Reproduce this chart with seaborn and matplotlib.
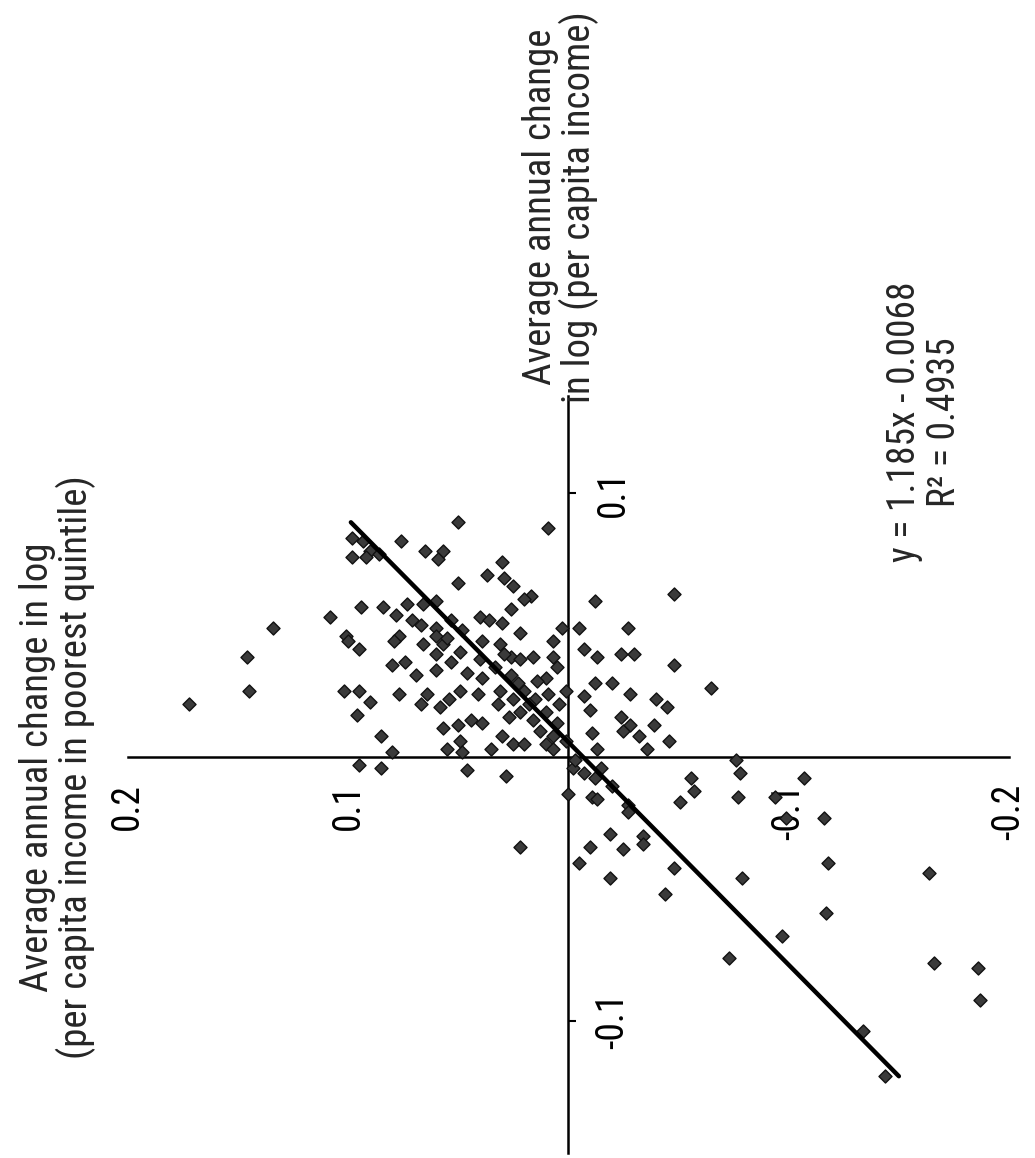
import matplotlib
matplotlib.use("Agg")
import matplotlib.pyplot as plt
from matplotlib import font_manager
import seaborn as sns
import pandas as pd

# Average annual change in log per capita income (mean) and in the poorest quintile (poor)
mean_growth = [
    0.089, 0.087, 0.083, 0.082, 0.078, 0.077, 0.076, 0.076, 0.082, 0.078,
    0.078, 0.075, 0.074, 0.069, 0.068, 0.065, 0.066, 0.061, 0.060, 0.059,
    0.057, 0.057, 0.058, 0.054, 0.058, 0.059, 0.053, 0.049, 0.038, 0.052,
    0.050, 0.052, 0.048, 0.053, 0.052, 0.056, 0.051, 0.049, 0.047, 0.049,
    0.049, 0.041, 0.038, 0.046, 0.044, 0.041, 0.046, 0.044, 0.043, 0.046,
    0.043, 0.040, 0.044, 0.044, 0.043, 0.038, 0.037, 0.038, 0.038, 0.034,
    0.039, 0.036, 0.035, 0.036, 0.033, 0.032, 0.037, 0.030, 0.031, 0.025,
    0.020, 0.025, 0.025, 0.021, 0.016, 0.008, 0.002, 0.024, 0.020, 0.024,
    0.019, 0.011, 0.022, 0.025, 0.030, 0.012, 0.006, 0.002, 0.003, 0.014,
    0.013, 0.003, 0.008, 0.005, 0.005, 0.005, 0.008, 0.023, 0.018, 0.028,
    0.009, 0.003, -0.004, -0.006, -0.008, -0.014, -0.015, -0.003, -0.004, -0.005,
    -0.007, -0.034, -0.034, -0.040, 0.045, 0.024, 0.039, 0.034,
    0.025, 0.022, 0.025, 0.022, 0.024, 0.020, 0.017, 0.014, 0.017, 0.013,
    0.015, 0.010, 0.028, 0.029, 0.025, 0.003, 0.020, 0.006, 0.020, 0.031,
    0.028, 0.039, 0.049, 0.039, 0.024, 0.015, 0.012, 0.010, 0.008, -0.029,
    -0.035, -0.018, 0.062, 0.035, 0.026, 0.022, 0.019, 0.012, 0.006, 0.003,
    -0.001, -0.004, -0.001, -0.006, -0.008, -0.013, -0.015, -0.017, -0.016, -0.011,
    -0.021, -0.015, -0.008, -0.023, -0.023, -0.030, -0.033, -0.046, -0.042, -0.052,
    -0.046, -0.040, -0.059, -0.044, -0.068, -0.076, -0.078, -0.080, -0.092, -0.121,
    -0.104,
]
poor_growth = [
    0.050, 0.009, 0.098, 0.093, 0.090, 0.086, 0.098, 0.092, 0.076, 0.065,
    0.057, 0.059, 0.030, 0.037, 0.029, 0.025, 0.050, 0.017, 0.020, -0.012,
    0.094, 0.084, 0.073, 0.078, 0.066, 0.060, 0.108, 0.134, 0.146, 0.071,
    0.067, 0.053, 0.048, 0.040, 0.036, 0.026, 0.030, 0.060, 0.022, 0.003,
    -0.005, -0.007, -0.013, 0.101, 0.100, 0.095, 0.077, 0.079, 0.066, 0.060,
    0.057, 0.049, 0.039, 0.007, 0.031, 0.026, 0.022, 0.016, 0.007, 0.005,
    0.060, 0.053, 0.080, 0.074, 0.060, 0.046, 0.040, 0.010, 0.069, 0.145,
    0.172, 0.102, 0.095, 0.090, 0.096, 0.085, 0.080, 0.077, 0.067, 0.064,
    0.058, 0.057, 0.054, 0.049, 0.039, 0.050, 0.049, 0.048, 0.055, 0.044,
    0.039, 0.035, 0.030, 0.025, 0.020, 0.010, 0.007, -0.007, -0.010, -0.012,
    -0.011, -0.013, -0.002, -0.007, -0.012, 0.000, -0.011, 0.095, 0.085, 0.046,
    0.028, 0.022, -0.010, -0.005, 0.055, 0.041, 0.029, 0.033,
    0.031, 0.025, 0.020, 0.015, 0.009, 0.004, 0.022, 0.016, 0.010, 0.005,
    0.027, 0.013, 0.023, 0.014, 0.001, 0.007, 0.018, 0.001, 0.032, 0.026,
    -0.020, -0.024, -0.027, -0.030, -0.028, -0.024, -0.028, -0.025, -0.032, -0.019,
    -0.025, -0.027, -0.048, -0.048, -0.065, -0.040, -0.045, -0.039, -0.046, -0.036,
    -0.003, -0.015, -0.076, -0.078, -0.056, -0.057, -0.077, -0.051, -0.013, -0.020,
    -0.027, -0.094, -0.107, -0.099, -0.116, -0.034, -0.034, -0.019, -0.048, -0.044,
    -0.079, -0.118, -0.117, -0.164, -0.097, -0.073, -0.166, -0.186, -0.187, -0.144,
    -0.134,
]

# Fitted trend printed on the chart
slope = 1.185
intercept = -0.0068
r_squared = 0.4935

# Ticks on the income axis and on the poorest-quintile axis
mean_ticks = [-0.1, 0.1]
mean_tick_labels = ["-0.1", "0.1"]
poor_ticks = [0.2, 0.1, -0.1, -0.2]
poor_tick_labels = ["0.2", "0.1", "-0.1", "-0.2"]

mean_title = "Average annual change\nin log (per capita income)"
poor_title = "Average annual change in log\n(per capita income in poorest quintile)"

sns.set_theme(style="white")

# the scan uses a condensed sans; take one if the machine has it
fonts = font_manager.fontManager.ttflist
names = {f.name for f in fonts}
family, stretch, narrow = "Liberation Sans", "normal", False
for cand in ["Liberation Sans Narrow", "Roboto Condensed", "Open Sans Condensed",
             "Noto Sans Condensed", "DejaVu Sans Condensed"]:
    if cand in names:
        family, narrow = cand, True
        break
else:
    for f in fonts:
        if f.name in ("DejaVu Sans", "Noto Sans", "Roboto", "Open Sans") and \
                str(f.stretch) in ("condensed", "semi-condensed", "extra-condensed"):
            family, stretch, narrow = f.name, f.stretch, True
            break
plt.rcParams["font.family"] = [family, "DejaVu Sans"]
plt.rcParams["font.stretch"] = stretch
plt.rcParams["axes.unicode_minus"] = False
k = 1.0 if narrow else 0.8

df = pd.DataFrame({"mean": mean_growth, "poor": poor_growth})
fit = pd.DataFrame({"mean": [df["mean"].min(), df["mean"].max()]})
fit["poor"] = slope * fit["mean"] + intercept

# The page is turned a quarter: income runs up the page, poorest quintile runs to the left
fig = plt.figure(figsize=(10.35, 11.58), dpi=100)
ax = fig.add_axes([0, 0, 1, 1])

sns.scatterplot(data=df, x="poor", y="mean", marker="D", s=44, color="#3a3a3a",
                edgecolor="#111111", linewidth=1.0, ax=ax, zorder=3)
sns.lineplot(data=fit, x="poor", y="mean", color="black", linewidth=3.2,
             estimator=None, sort=False, ax=ax, zorder=4)

ax.set_xlim(0.258, -0.212)
ax.set_ylim(-0.152, 0.287)
ax.set_xlabel("")
ax.set_ylabel("")

for side in ["top", "left"]:
    ax.spines[side].set_visible(False)
ax.spines["right"].set_position(("data", 0))
ax.spines["right"].set_bounds(-0.15, 0.137)
ax.spines["bottom"].set_position(("data", 0))
ax.spines["bottom"].set_bounds(-0.2, 0.2)
for side in ["right", "bottom"]:
    ax.spines[side].set_color("black")
    ax.spines[side].set_linewidth(1.8)

ax.yaxis.tick_right()
ax.set_yticks(mean_ticks)
ax.set_yticklabels(mean_tick_labels)
ax.set_xticks(poor_ticks)
ax.set_xticklabels(poor_tick_labels)
ax.tick_params(axis="both", direction="out", length=6, width=1.5, color="black",
               labelsize=27 * k, pad=13, labelcolor="black")
ax.tick_params(axis="both", labelrotation=90)
for lab in ax.get_yticklabels():
    lab.set_va("center")
    lab.set_ha("left")

ax.text(0.0036, 0.2085, mean_title, rotation=90, ha="center", va="center",
        multialignment="center", fontsize=28 * k, linespacing=1.0)
ax.text(0.232, -0.004, poor_title, rotation=90, ha="center", va="center",
        multialignment="center", fontsize=28 * k, linespacing=1.0)
ax.text(-0.162, 0.127, f"y = {slope}x - {abs(intercept)}\nR\u00b2 = {r_squared}",
        rotation=90, ha="center", va="center", multialignment="center",
        fontsize=27 * k, linespacing=1.1)

fig.savefig("out.png", dpi=100, facecolor="white")
